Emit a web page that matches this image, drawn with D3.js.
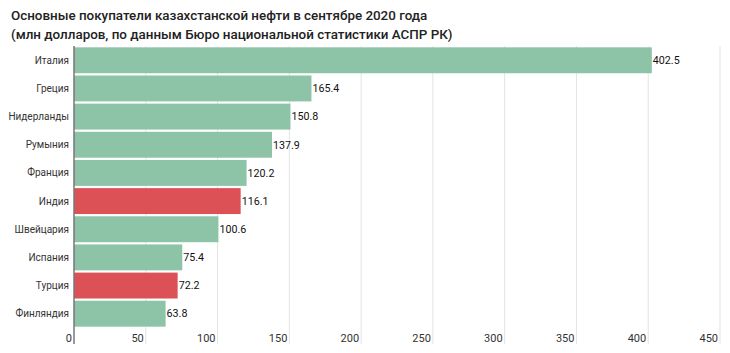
<!DOCTYPE html>
<html>
<head>
<meta charset="utf-8">
<script src="https://cdn.jsdelivr.net/npm/d3@7"></script>
<style>
  body { margin: 0; background: #fff; font-family: Roboto, "Noto Sans", sans-serif; }
</style>
</head>
<body>
<div id="chart"></div>
<script>
const countries = ["Италия", "Греция", "Нидерланды", "Румыния", "Франция", "Индия", "Швейцария", "Испания", "Турция", "Финляндия"];
const values = [402.5, 165.4, 150.8, 137.9, 120.2, 116.1, 100.6, 75.4, 72.2, 63.8];
const highlighted = ["Индия", "Турция"];
const ticks = [0, 50, 100, 150, 200, 250, 300, 350, 400, 450];

const data = countries.map((c, i) => ({country: c, value: values[i]}));

const W = 730, H = 353;
const svg = d3.select("#chart").append("svg")
    .attr("width", W)
    .attr("height", H);

// title
svg.append("text")
   .attr("x", 11).attr("y", 19.5)
   .style("font-size", "13.4px").style("font-weight", 500).attr("fill", "#222")
   .text("Основные покупатели казахстанской нефти в сентябре 2020 года");
svg.append("text")
   .attr("x", 11).attr("y", 39)
   .style("font-size", "13.4px").style("font-weight", 500).attr("fill", "#222")
   .text("(млн долларов, по данным Бюро национальной статистики АСПР РК)");

const x = d3.scaleLinear().domain([0, 450]).range([74, 720]);
const y = d3.scaleBand().domain(countries).range([46.2, 327.8]).paddingInner(0.08).paddingOuter(0.04);

// gridlines
svg.append("g")
   .selectAll("line")
   .data(ticks.slice(1))
   .enter().append("line")
   .attr("x1", d => x(d)).attr("x2", d => x(d))
   .attr("y1", 46).attr("y2", 344)
   .attr("stroke", "#e3e3e3").attr("stroke-width", 1);

// tick labels
svg.append("g")
   .selectAll("text")
   .data(ticks)
   .enter().append("text")
   .attr("x", d => x(d) - 2)
   .attr("y", 342)
   .attr("text-anchor", "end")
   .style("font-size", "11px").attr("fill", "#333")
   .text(d => d);

// bars
svg.append("g")
   .selectAll("rect")
   .data(data)
   .enter().append("rect")
   .attr("x", x(0))
   .attr("y", d => y(d.country))
   .attr("width", d => x(d.value) - x(0))
   .attr("height", y.bandwidth())
   .attr("fill", d => highlighted.includes(d.country) ? "#dc5155" : "#8dc3a6");

// value labels
svg.append("g")
   .selectAll("text")
   .data(data)
   .enter().append("text")
   .attr("x", d => x(d.value) + 1)
   .attr("y", d => y(d.country) + y.bandwidth() / 2)
   .attr("dy", "0.35em")
   .style("font-size", "10.7px").attr("fill", "#111")
   .text(d => d.value.toFixed(1));

// category labels
svg.append("g")
   .selectAll("text")
   .data(data)
   .enter().append("text")
   .attr("x", 69)
   .attr("y", d => y(d.country) + y.bandwidth() / 2)
   .attr("dy", "0.35em")
   .attr("text-anchor", "end")
   .style("font-size", "10px").attr("fill", "#333")
   .text(d => d.country);

// axis line
svg.append("line")
   .attr("x1", x(0)).attr("x2", x(0))
   .attr("y1", 46).attr("y2", 344)
   .attr("stroke", "#777").attr("stroke-width", 1.5);
</script>
</body>
</html>
